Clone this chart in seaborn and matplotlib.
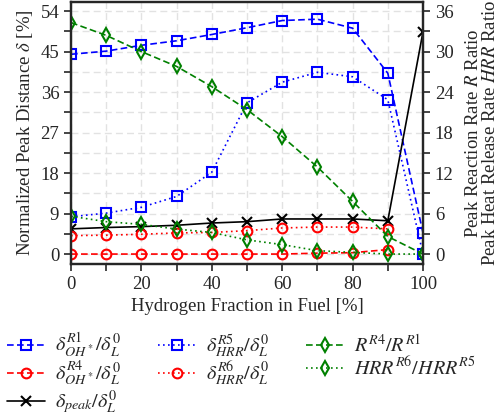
import numpy as np
import pandas as pd
import matplotlib
matplotlib.use("Agg")
import matplotlib.pyplot as plt
from matplotlib.ticker import MultipleLocator
import seaborn as sns

# ---- data ----
h2_fraction = [0, 10, 20, 30, 40, 50, 60, 70, 80, 90, 100]
delta_oh_r1 = [44.4, 45.1, 46.4, 47.4, 48.8, 50.3, 51.9, 52.2, 50.2, 40.2, 4.7]
delta_oh_r4 = [0.0, 0.0, 0.0, 0.0, 0.0, 0.0, 0.0, 0.2, 0.3, 1.0, np.nan]
delta_peak = [5.6, 5.9, 6.1, 6.4, 6.9, 7.2, 7.8, 7.8, 7.8, 7.4, 49.4]
delta_hrr_r5 = [8.3, 9.1, 10.4, 12.8, 18.2, 33.6, 38.2, 40.4, 39.4, 34.3, 0.0]
delta_hrr_r6 = [4.1, 4.2, 4.4, 4.7, 4.8, 5.2, 5.8, 6.0, 6.0, 5.6, np.nan]
ratio_r = [34.3, 32.4, 30.0, 27.8, 24.8, 21.4, 17.4, 12.9, 7.8, 2.6, 0.0]
ratio_hrr = [5.6, 4.8, 4.4, 3.7, 3.2, 2.1, 1.4, 0.5, 0.25, 0.0, 0.0]

sns.set_style("ticks")
plt.rcParams['font.family'] = ['Liberation Serif', 'DejaVu Serif']
plt.rcParams['mathtext.fontset'] = 'stix'
FS = 13.5
LFS = 14.5

fig = plt.figure(figsize=(5.0, 4.17), dpi=100)
ax = fig.add_axes([0.142, 0.367, 0.704, 0.628])
ax2 = ax.twinx()

common = dict(linewidth=1.2, markersize=7, markeredgewidth=1.5, markerfacecolor='none')

left_series = [
    (delta_oh_r1, '#0000ff', 's', (0, (4, 2)), r'$\delta^{R1}_{OH^*}/\delta^0_L$'),
    (delta_oh_r4, '#ff0000', 'o', (0, (4, 2)), r'$\delta^{R4}_{OH^*}/\delta^0_L$'),
    (delta_peak, '#000000', 'x', '-', r'$\delta_{peak}/\delta^0_L$'),
    (delta_hrr_r5, '#0000ff', 's', (0, (1, 2)), r'$\delta^{R5}_{HRR}/\delta^0_L$'),
    (delta_hrr_r6, '#ff0000', 'o', (0, (1, 2)), r'$\delta^{R6}_{HRR}/\delta^0_L$'),
]
right_series = [
    (ratio_r, '#008000', 'd', (0, (4, 2)), r'$R^{R4}/R^{R1}$'),
    (ratio_hrr, '#008000', 'd', (0, (1, 2)), r'$HRR^{R6}/HRR^{R5}$'),
]

for vals, c, m, ls, lab in left_series:
    df = pd.DataFrame({'x': h2_fraction, 'y': vals}).dropna()
    sns.lineplot(data=df, x='x', y='y', ax=ax, color=c, marker=m, linestyle=ls,
                 markeredgecolor=c, label=lab, legend=False, **common)
for vals, c, m, ls, lab in right_series:
    df = pd.DataFrame({'x': h2_fraction, 'y': vals}).dropna()
    sns.lineplot(data=df, x='x', y='y', ax=ax2, color=c, marker=m, linestyle=ls,
                 markeredgecolor=c, label=lab, legend=False, **common)

ax.set_xlim(0, 100)
ax.set_ylim(-2.2, 56.0)
ax2.set_ylim(-2.2 * 2 / 3, 56.0 * 2 / 3)
ax.xaxis.set_major_locator(MultipleLocator(20))
ax.xaxis.set_minor_locator(MultipleLocator(10))
ax.yaxis.set_major_locator(MultipleLocator(9))
ax.yaxis.set_minor_locator(MultipleLocator(4.5))
ax2.yaxis.set_major_locator(MultipleLocator(6))
ax2.yaxis.set_minor_locator(MultipleLocator(3))

ax.grid(which='both', linestyle=(0, (5, 3)), color='#e2e2e2', linewidth=1.0)
ax.set_axisbelow(True)

for a in (ax, ax2):
    for s in a.spines.values():
        s.set_linewidth(1.6)
        s.set_visible(True)
    a.tick_params(which='both', direction='out', length=5, width=1.2, labelsize=FS)

ax.set_xlabel('Hydrogen Fraction in Fuel [%]', fontsize=FS)
ax.set_ylabel(r'Normalized Peak Distance $\delta$ [%]', fontsize=FS)
ax2.set_ylabel('Peak Reaction Rate $R$ Ratio\nPeak Heat Release Rate $HRR$ Ratio',
               fontsize=FS, linespacing=1.0, labelpad=8)

h1, l1 = ax.get_legend_handles_labels()
h2, l2 = ax2.get_legend_handles_labels()
fig.legend(h1 + h2, l1 + l2, loc='upper left', bbox_to_anchor=(-0.002, 0.226),
           ncol=3, frameon=False, fontsize=LFS, handlelength=1.9, handletextpad=0.5,
           columnspacing=1.8, labelspacing=0.0, borderaxespad=0)

fig.savefig('out.png', dpi=100)
